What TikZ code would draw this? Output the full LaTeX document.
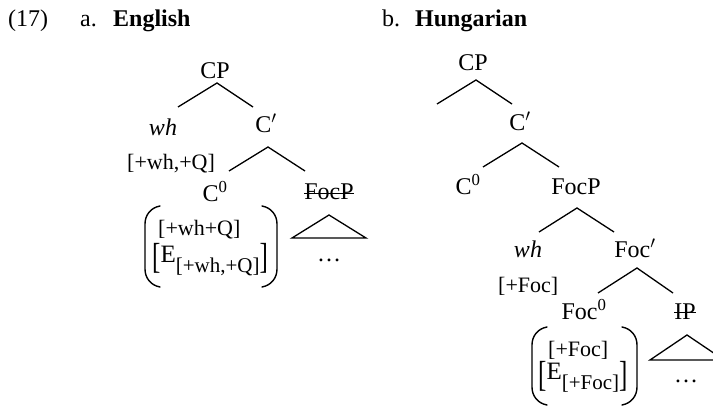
\documentclass[tikz,border=0pt]{standalone}
\usepackage{fontspec}
\setmainfont{Liberation Serif}
\usetikzlibrary{calc}

\newcommand{\mainsize}{\fontsize{24}{28}\selectfont}
\newcommand{\featsize}{\fontsize{22}{24}\selectfont}
\newcommand{\subsize}{\fontsize{21}{24}\selectfont}
\newcommand{\bigEsize}{\fontsize{25}{28}\selectfont}

\tikzset{
  lab/.style={inner sep=0pt, anchor=base, font=\mainsize},
  feat/.style={inner sep=0pt, anchor=base west, font=\featsize},
  branch/.style={line width=1.3pt},
  tri/.style={line width=1.3pt, line join=miter},
  strike/.style={line width=1pt},
  paren/.style={line width=1.4pt, line cap=round},
}

% a pair of tall round brackets between x = #1 and #2, from y = #3 to #4
\newcommand{\bigparens}[4]{%
  \draw[paren] ($(#1,#3)+(15,0)$) to[out=190,in=90] ($(#1,#3)+(0,18)$)
     -- ($(#1,#4)+(0,-18)$) to[out=-90,in=170] ($(#1,#4)+(15,0)$);
  \draw[paren] ($(#2,#3)+(-15,0)$) to[out=-10,in=90] ($(#2,#3)+(0,18)$)
     -- ($(#2,#4)+(0,-18)$) to[out=-90,in=10] ($(#2,#4)+(-15,0)$);
}

% stretched square brackets around the checking feature
\newcommand{\tallbrack}[1]{\raisebox{-6pt}{\scalebox{1}[1.45]{#1}}}
% checking feature [E_[...]]
\newcommand{\Efeat}[1]{{\bigEsize\tallbrack{[}E\raisebox{-10pt}{\subsize #1}\tallbrack{]}}}

\begin{document}
\begin{tikzpicture}[x=1pt,y=-1pt]
\useasboundingbox (0,0) rectangle (713,406);

% headings
\node[lab, anchor=base west] (num) at (8,27) {(17)};
\node[lab, anchor=base west] (ha) at (80,27) {a.};
\node[lab, anchor=base west] (hae) at (113,27) {\textbf{English}};
\node[lab, anchor=base west] (hb) at (382,27) {b.};
\node[lab, anchor=base west] (hbh) at (415,27) {\textbf{Hungarian}};

% ---------------- English ----------------
\node[lab] (eCP) at (215,79) {CP};
\coordinate (eCPa) at (217,83);
\coordinate (eCPl) at (178,107);
\coordinate (eCPr) at (253,107);
\draw[branch] (eCPl) -- (eCPa) -- (eCPr);

\node[lab] (ewh) at (163,136) {\textit{wh}};
\node[feat] (ewhf) at (127,170) {[+wh,+Q]};
\node[lab] (eCbar) at (266,133) {C$'$};
\coordinate (eCba) at (268,147);
\coordinate (eCbl) at (229,171);
\coordinate (eCbr) at (305,171);
\draw[branch] (eCbl) -- (eCba) -- (eCbr);

\node[lab] (eC0) at (215,202) {C\textsuperscript{0}};
\node[lab] (eFocP) at (329,200) {FocP};
\draw[strike] ($(eFocP.base west)+(0,-6)$) -- ($(eFocP.base east)+(0,-6)$);

\coordinate (etA) at (329,215);
\coordinate (etL) at (292,238);
\coordinate (etR) at (366,238);
\draw[tri] (etA) -- (etL) -- (etR) -- cycle;
\node[lab] (edots) at (329,262) {\ldots};

\node[feat] (eb1) at (158,236) {[+wh+Q]};
\node[inner sep=0pt, anchor=base west] (eb2) at (152,263) {\Efeat{[+wh,+Q]}};
\bigparens{145}{277}{206}{287}

% ---------------- Hungarian ----------------
\node[lab] (hCP) at (473,71) {CP};
\coordinate (hCPa) at (476,80);
\coordinate (hCPl) at (437,104);
\coordinate (hCPr) at (512,104);
\draw[branch] (hCPl) -- (hCPa) -- (hCPr);

\node[lab] (hCbar) at (520,131) {C$'$};
\coordinate (hCba) at (522,143);
\coordinate (hCbl) at (483,167);
\coordinate (hCbr) at (559,167);
\draw[branch] (hCbl) -- (hCba) -- (hCbr);

\node[lab] (hC0) at (468,195) {C\textsuperscript{0}};
\node[lab] (hFocP) at (576,195) {FocP};
\coordinate (hFa) at (577,208);
\coordinate (hFl) at (539,232);
\coordinate (hFr) at (614,232);
\draw[branch] (hFl) -- (hFa) -- (hFr);

\node[lab] (hwh) at (528,258) {\textit{wh}};
\node[feat] (hwhf) at (498,293) {[+Foc]};
\node[lab] (hFbar) at (635,258) {Foc$'$};
\coordinate (hFba) at (637,268);
\coordinate (hFbl) at (598,293);
\coordinate (hFbr) at (673,293);
\draw[branch] (hFbl) -- (hFba) -- (hFbr);

\node[lab] (hFoc0) at (584,320) {Foc\textsuperscript{0}};
\node[lab] (hIP) at (685,320) {IP};
\draw[strike] ($(hIP.base west)+(0,-7)$) -- ($(hIP.base east)+(0,-7)$);

\coordinate (htA) at (687,335);
\coordinate (htL) at (650,360);
\coordinate (htR) at (724,360);
\draw[tri] (htA) -- (htL) -- (htR) -- cycle;
\node[lab] (hdots) at (686,382) {\ldots};

\node[feat] (hb1) at (548,357) {[+Foc]};
\node[inner sep=0pt, anchor=base west] (hb2) at (538,380) {\Efeat{[+Foc]}};
\bigparens{532}{637}{327}{405}
\end{tikzpicture}
\end{document}
